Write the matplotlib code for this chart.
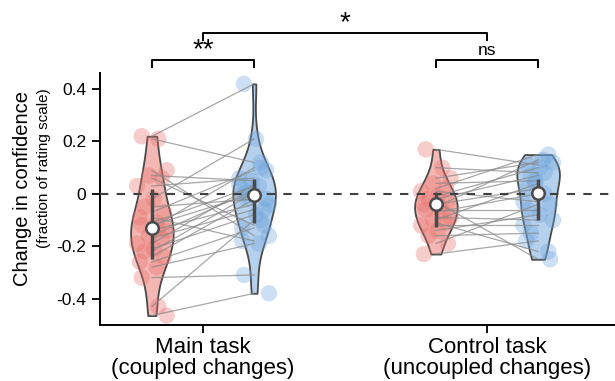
import matplotlib.pyplot as plt
import numpy as np

plt.rcParams['font.family'] = ['Liberation Sans', 'DejaVu Sans']

# paired changes in confidence, one entry per participant
main_red = [0.22, 0.21, 0.09, 0.07, 0.06, 0.03, -0.02, -0.05, -0.07, -0.09,
            -0.11, -0.12, -0.13, -0.14, -0.16, -0.17, -0.19, -0.21, -0.22,
            -0.24, -0.26, -0.28, -0.32, -0.43, -0.465]
main_blue = [0.42, 0.12, -0.16, 0.05, -0.12, 0.06, 0.21, -0.02, 0.09, -0.18,
             0.03, 0.0, 0.10, -0.04, 0.015, -0.06, 0.035, -0.08, 0.005,
             -0.02, -0.13, -0.19, -0.31, -0.10, -0.38]
ctrl_red = [0.17, 0.10, 0.06, 0.04, 0.02, 0.01, -0.01, -0.02, -0.03, -0.04,
            -0.05, -0.06, -0.07, -0.09, -0.10, -0.11, -0.12, -0.14, -0.16,
            -0.19, -0.23]
ctrl_blue = [0.11, 0.08, 0.12, 0.05, 0.15, -0.03, 0.10, 0.07, -0.25, 0.02,
             0.13, -0.06, 0.0, -0.10, 0.04, -0.22, -0.12, -0.08, -0.15,
             -0.04, -0.18]

# summary markers (centre, lower, upper)
centers = [-0.13, -0.005, -0.04, 0.003]
lows = [-0.25, -0.11, -0.127, -0.10]
highs = [0.02, 0.055, 0.007, 0.058]

group_labels = ['Main task\n(coupled changes)', 'Control task\n(uncoupled changes)']
yticks = [-0.4, -0.2, 0, 0.2, 0.4]
ytick_labels = ['-0.4', '-0.2', '0', '0.2', '0.4']

RED = '#e8706b'
BLUE = '#6fa5dd'
DARK = '#4a4a4a'
off = 0.18

fig = plt.figure(figsize=(6.15, 3.81), dpi=100)
ax = fig.add_axes([0.1626, 0.147, 1.0 - 0.1626, 0.661])

datasets = [main_red, main_blue, ctrl_red, ctrl_blue]
positions = [0 - off, 0 + off, 1 - off, 1 + off]
colors = [RED, BLUE, RED, BLUE]

vp = ax.violinplot(datasets, positions=positions, widths=0.15,
                   showextrema=False, bw_method=0.45)
for body, c in zip(vp['bodies'], colors):
    body.set_alpha(None)
    rgb = plt.matplotlib.colors.to_rgb(c)
    body.set_facecolor(rgb + (0.5,))
    body.set_edgecolor(DARK)
    body.set_linewidth(1.3)
    body.set_zorder(2)

# scatter points, spread inside each violin with a fixed pattern
pattern = [-0.55, 0.35, 0.8, -0.15, 0.55, -0.8, 0.1, -0.4, 0.65, -0.65, 0.25]
for vals, pos, c in zip(datasets, positions, colors):
    xs = [pos + 0.065 * pattern[i % len(pattern)] for i in range(len(vals))]
    ax.scatter(xs, vals, s=140, color=c, alpha=0.35, edgecolors='none', zorder=3)

# pairing lines
for left, right, g in [(main_red, main_blue, 0), (ctrl_red, ctrl_blue, 1)]:
    for a, b in zip(left, right):
        ax.plot([g - off, g + off], [a, b], color='#8a8a8a', lw=0.9,
                alpha=0.75, zorder=4)

ax.axhline(0, color='#404040', lw=1.5, ls=(0, (4, 4)), zorder=4.5)

for pos, c, lo, hi in zip(positions, centers, lows, highs):
    ax.plot([pos, pos], [lo, hi], color=DARK, lw=2.5, zorder=5,
            solid_capstyle='butt')
    ax.plot(pos, c, 'o', ms=9, mfc='white', mec=DARK, mew=1.8, zorder=6)

# significance brackets
def bracket(x0, x1, y, h, label, fs, dy):
    ax.plot([x0, x0, x1, x1], [y - h, y, y, y - h], color='black', lw=1.4,
            clip_on=False)
    ax.text((x0 + x1) / 2, y + dy, label, ha='center', va='bottom',
            fontsize=fs, clip_on=False)

bracket(0 - off, 0 + off, 0.511, 0.025, '**', 20, -0.012)
bracket(1 - off, 1 + off, 0.511, 0.025, 'ns', 12.5, 0.008)
bracket(0, 1, 0.614, 0.025, '*', 20, -0.012)

ax.set_xlim(-0.3627, 1.4507)
ax.set_ylim(-0.501, 0.461)
ax.set_xticks([0, 1])
ax.set_xticklabels(group_labels, fontsize=16, linespacing=0.95)
ax.set_yticks(yticks)
ax.set_yticklabels(ytick_labels, fontsize=12.5)
ax.tick_params(axis='both', direction='out', length=6, width=1.3, pad=4)
ax.tick_params(axis='x', pad=3)
for side in ['top', 'right']:
    ax.spines[side].set_visible(False)
for side in ['left', 'bottom']:
    ax.spines[side].set_linewidth(1.4)

fig.text(0.037, 1 - 91 / 381, 'Change in confidence', rotation=90, fontsize=14.5,
         ha='center', va='top')
fig.text(0.071, 1 - 88 / 381, '(fraction of rating scale)', rotation=90,
         fontsize=11, ha='center', va='top')

fig.savefig('out.png', dpi=100)
